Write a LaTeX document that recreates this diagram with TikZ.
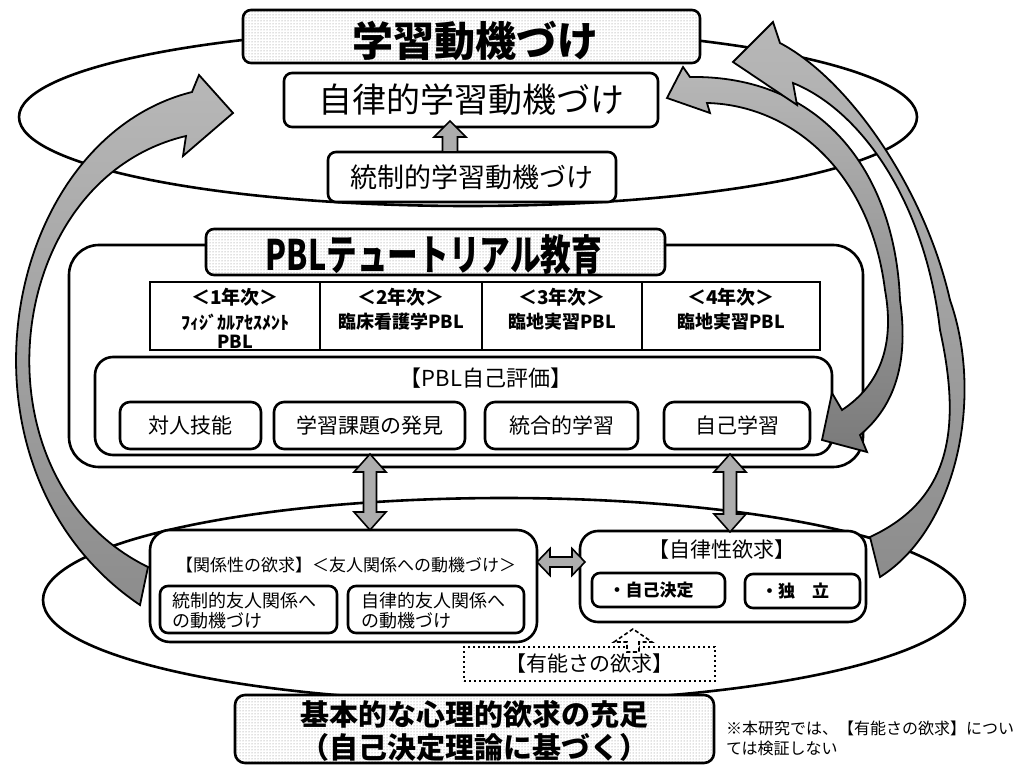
\documentclass[tikz,border=0pt]{standalone}
\usepackage{fontspec}
\setmainfont{Noto Sans CJK JP}
\usepackage{graphicx}
\usetikzlibrary{patterns}
\newcommand\fsz[1]{\fontsize{#1}{#1}\selectfont}
\tikzset{
  every node/.style={inner sep=0pt, outer sep=0pt},
  bx/.style={draw, line width=2.6pt, fill=white, rounded corners=#1},
  bx/.default=8pt,
  dotfill/.style={preaction={fill=white}, pattern=dots, pattern color=black!50},
  cell/.style={draw, line width=2.4pt, fill=white, minimum height=68pt},
  band/.style={line width=1.8pt, line join=miter, draw=black, top color=black!28, bottom color=black!45},
  banddark/.style={line width=1.8pt, line join=miter, draw=black, top color=black!28, bottom color=black!52},
  blk/.style={draw=black, line width=1.6pt, fill=black!32, line join=miter},
  dashblk/.style={draw=black, line width=1.6pt, fill=white, dash pattern=on 4pt off 2.5pt},
  ell/.style={line width=2.6pt},
}
\begin{document}
\begin{tikzpicture}[x=1pt,y=-1pt]
\useasboundingbox (0,0) rectangle (1029,765);
\fill[white] (0,0) rectangle (1029,765);
% ellipses
\draw[ell] (468,117) ellipse [x radius=449pt, y radius=89pt];
\draw[ell] (504,600) ellipse [x radius=461pt, y radius=102pt];

% top boxes
\node[bx, dotfill, minimum width=457pt, minimum height=53pt] (mot) at (471.5,36.5) {};
\node (motT) at (475,41) {\fsz{41}\bfseries 学習動機づけ};
\node[bx, minimum width=374pt, minimum height=54pt] (auto) at (471,100) {\fsz{34}自律的学習動機づけ};
\node[bx, minimum width=288pt, minimum height=50pt] (ctrl) at (472,177) {\fsz{27}統制的学習動機づけ};
\coordinate (ua) at (450,152);
\draw[blk] (ua) -- ++(7.5,0) -- ++(0,-15) -- ++(8.5,0) -- ++(-16,-16) -- ++(-16,16) -- ++(8.5,0) -- ++(0,15) -- cycle;

% PBL block
\node[bx=30pt, minimum width=794pt, minimum height=222pt] (pbl) at (466,356) {};
\node[bx, dotfill, minimum width=459pt, minimum height=46pt] (pblt) at (435.5,252) {};
\node (pbltT) at (434,255) {\scalebox{0.73}[1]{\fsz{42}\bfseries PBLテュートリアル教育}};

\node[cell, minimum width=170pt] (y1) at (235,316) {};
\node[cell, minimum width=162pt] (y2) at (401,316) {};
\node[cell, minimum width=160pt] (y3) at (562,316) {};
\node[cell, minimum width=178pt] (y4) at (731,316) {};
\node (y1a) at (235,297) {\fsz{19}\bfseries ＜1年次＞};
\node (y1b) at (235,322) {\fsz{18}\bfseries ﾌｨｼﾞｶﾙｱｾｽﾒﾝﾄ};
\node (y1c) at (235,342) {\fsz{18}\bfseries PBL};
\node (y2a) at (401,297) {\fsz{19}\bfseries ＜2年次＞};
\node (y2b) at (401,322) {\fsz{18}\bfseries 臨床看護学PBL};
\node (y3a) at (562,297) {\fsz{19}\bfseries ＜3年次＞};
\node (y3b) at (562,322) {\fsz{18}\bfseries 臨地実習PBL};
\node (y4a) at (731,297) {\fsz{19}\bfseries ＜4年次＞};
\node (y4b) at (731,322) {\fsz{18}\bfseries 臨地実習PBL};

\node[bx=18pt, minimum width=737pt, minimum height=98pt] (self) at (463.5,406) {};
\node (selfT) at (486,378) {\fsz{22}【PBL自己評価】};
\node[bx=10pt, minimum width=141pt, minimum height=47pt] (s1) at (190.5,425.5) {\fsz{21}対人技能};
\node[bx=10pt, minimum width=191pt, minimum height=47pt] (s2) at (369.5,425.5) {\fsz{21}学習課題の発見};
\node[bx=10pt, minimum width=153pt, minimum height=47pt] (s3) at (561.5,425.5) {\fsz{21}統合的学習};
\node[bx=10pt, minimum width=146pt, minimum height=47pt] (s4) at (737,425.5) {\fsz{21}自己学習};

% bottom boxes
\node[bx=20pt, minimum width=387pt, minimum height=112pt] (rel) at (343.5,586) {};
\node (relT) at (346,565) {\fsz{17}【関係性の欲求】＜友人関係への動機づけ＞};
\node[bx, minimum width=177pt, minimum height=47pt] (r1) at (248.5,609.5) {};
\node[bx, minimum width=176pt, minimum height=47pt] (r2) at (436,609.5) {};
\node[anchor=west, align=left, font=\fsz{18}] (r1T) at (172,611) {統制的友人関係へ\\[2pt]の動機づけ};
\node[anchor=west, align=left, font=\fsz{18}] (r2T) at (361,611) {自律的友人関係へ\\[2pt]の動機づけ};

\node[bx=18pt, minimum width=286pt, minimum height=91pt] (aut) at (723,576.5) {};
\node (autT) at (722,550) {\fsz{21}【自律性欲求】};
\node[bx, minimum width=133pt, minimum height=34pt] (a1) at (658.5,590) {};
\node[bx, minimum width=115pt, minimum height=34pt] (a2) at (802.5,591) {};
\node (a1T) at (651,590) {\fsz{17}\bfseries ・自己決定};
\node (a2T) at (795,591) {\fsz{17}\bfseries ・独　立};

\node[draw, line width=2.4pt, dash pattern=on 2.4pt off 2.6pt, fill=white, minimum width=251pt, minimum height=34pt] (comp) at (589.5,664) {\fsz{21}【有能さの欲求】};
\coordinate (da) at (633,652);
\draw[dashblk] (da) -- ++(6,0) -- ++(0,-10) -- ++(13,0) -- ++(-19,-13) -- ++(-19,13) -- ++(13,0) -- ++(0,10) -- cycle;

\node[bx=10pt, dotfill, minimum width=479pt, minimum height=68pt] (basic) at (474.5,729) {};
\node[align=center, font=\fsz{29}\bfseries] (basicT) at (474,731) {基本的な心理的欲求の充足\\[4pt]（自己決定理論に基づく）};
\node[anchor=west, align=left, font=\fsz{16}] (note) at (726,738) {※本研究では、【有能さの欲求】につい\\[4pt]ては検証しない};

% double arrows
\draw[blk] (370,454) -- (386,472) -- (376.5,472) -- (376.5,512) -- (386,512) -- (370,530) -- (354,512) -- (363.5,512) -- (363.5,472) -- (354,472) -- cycle;
\draw[blk] (730,454) -- (746,472) -- (736.5,472) -- (736.5,514) -- (746,514) -- (730,532) -- (714,514) -- (723.5,514) -- (723.5,472) -- (714,472) -- cycle;
\draw[blk] (rel.east |- 0,562) -- ++(13,-13.5) -- ++(0,8.5) -- ++(22,0) -- ++(0,-8.5) -- ++(13,13.5) -- ++(-13,13.5) -- ++(0,-8.5) -- ++(-22,0) -- ++(0,8.5) -- cycle;

% big curved arrows
\shadedraw[banddark] (690,77) .. controls (820,75) and (895,170) .. (900,300) .. controls (910,370) and (890,410) .. (860,435) -- (867,452) -- (822,440) -- (832,393) -- (842,410) .. controls (880,385) and (895,345) .. (885,290) .. controls (870,170) and (790,105) .. (707,103) -- (710,113) -- (667,98) -- (683,67) -- cycle;
\shadedraw[band] (880,577) .. controls (955,530) and (985,400) .. (950,300) .. controls (925,190) and (850,80) .. (780,43) -- (773,22) -- (733,62) -- (797,105) -- (793,83) .. controls (860,110) and (925,200) .. (940,330) .. controls (962,430) and (950,500) .. (870,537) -- cycle;
\shadedraw[band] (140,605) .. controls (-60,470) and (0,140) .. (192,92) -- (199,75) -- (233,113) -- (183,156) -- (186,136) .. controls (0,180) and (-30,480) .. (148,567) -- cycle;
\end{tikzpicture}
\end{document}
